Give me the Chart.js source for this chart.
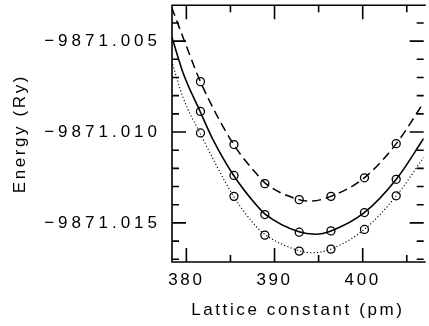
<!DOCTYPE html>
<html>
<head>
<meta charset="utf-8">
<script src="https://cdn.jsdelivr.net/npm/chart.js@4/dist/chart.umd.min.js"></script>
<style>
html,body{margin:0;padding:0;background:#fff;}
#wrap{width:429px;height:326px;position:relative;}
</style>
</head>
<body>
<div id="wrap"><canvas id="c" width="429" height="326"></canvas></div>
<script>
// ---- data ----
const latticeConstants = [381.6, 385.4, 388.9, 392.8, 396.4, 400.2, 403.8];
const energyDashedPts  = [-9871.00723, -9871.01069, -9871.01284, -9871.01372, -9871.01354, -9871.01252, -9871.01064];
const energySolidPts   = [-9871.00887, -9871.01239, -9871.01454, -9871.01551, -9871.01544, -9871.01443, -9871.01260];
const energyDottedPts  = [-9871.01005, -9871.01354, -9871.01567, -9871.01655, -9871.01644, -9871.01536, -9871.01351];

const dashedCurveX = [378.33, 380.0, 381.59, 385.37, 387.96, 389.0, 392.78, 394.07, 396.40, 400.18, 403.81, 406.92];
const dashedCurveE = [-9871.00314, -9871.00527, -9871.00723, -9871.01069, -9871.01230, -9871.01284, -9871.01372, -9871.01380, -9871.01354, -9871.01252, -9871.01064, -9871.00838];
const solidCurveX  = [378.33, 379.62, 381.56, 382.96, 385.37, 387.96, 389.0, 392.78, 394.62, 396.40, 400.18, 403.81, 406.92];
const solidCurveE  = [-9871.00473, -9871.00674, -9871.00887, -9871.01036, -9871.01239, -9871.01403, -9871.01454, -9871.01549, -9871.01562, -9871.01544, -9871.01444, -9871.01260, -9871.01036];
const dottedCurveX = [378.33, 379.62, 381.56, 385.37, 387.96, 389.0, 392.78, 394.26, 396.40, 400.18, 403.81, 406.92];
const dottedCurveE = [-9871.00609, -9871.00810, -9871.01007, -9871.01354, -9871.01522, -9871.01567, -9871.01653, -9871.01664, -9871.01644, -9871.01536, -9871.01351, -9871.01140];

const xTickValues = [380, 390, 400];
const xTickLabels = ['380', '390', '400'];
const xMinorTicks = [385, 395, 405];
const yTickValues = [-9871.015, -9871.010, -9871.005];
const yTickLabels = ['\u22129871.015', '\u22129871.010', '\u22129871.005'];
const yMinorTicks = [-9871.017, -9871.016, -9871.014, -9871.013, -9871.012, -9871.011, -9871.009, -9871.008, -9871.007, -9871.006, -9871.004];

const xTitle = 'Lattice constant (pm)';
const yTitle = 'Energy (Ry)';

// ---- helpers ----
const pairs = (xs, ys) => xs.map((x, i) => ({x: x, y: ys[i]}));
const LETTER_SP = '2.6px';
const Y_LABEL_SP = '4px';
const FONT = {family: '"Liberation Sans", Arial, sans-serif', size: 17};

const frameTicks = {
  id: 'frameTicks',
  beforeUpdate(chart) { chart.ctx.letterSpacing = LETTER_SP; },
  beforeDraw(chart) {
    chart.ctx.letterSpacing = LETTER_SP;
    const ys = chart.scales.y;
    if (ys && !ys._lsPatched) {
      const orig = ys.drawLabels;
      ys.drawLabels = function (area) {
        const c = this.ctx;
        const prev = c.letterSpacing;
        c.letterSpacing = Y_LABEL_SP;
        orig.call(this, area);
        c.letterSpacing = prev;
      };
      ys._lsPatched = true;
    }
  },
  afterDraw(chart) {
    const {ctx, chartArea: a, scales: {x, y}} = chart;
    const MAJ = 14, MIN = 7;
    ctx.save();
    ctx.strokeStyle = '#000';
    ctx.lineWidth = 1.6;
    ctx.lineCap = 'butt';
    ctx.beginPath();
    ctx.moveTo(a.left, a.top); ctx.lineTo(a.right + 2, a.top);
    ctx.moveTo(a.left, a.top - 0.8); ctx.lineTo(a.left, a.bottom + 0.8);
    ctx.moveTo(a.left, a.bottom); ctx.lineTo(a.right + 2, a.bottom);
    const hx = (v, len) => {
      const p = x.getPixelForValue(v);
      ctx.moveTo(p, a.bottom); ctx.lineTo(p, a.bottom - len);
      ctx.moveTo(p, a.top); ctx.lineTo(p, a.top + len);
    };
    const hy = (v, len) => {
      const p = y.getPixelForValue(v);
      ctx.moveTo(a.left, p); ctx.lineTo(a.left + len, p);
      ctx.moveTo(a.right, p); ctx.lineTo(a.right - len, p);
    };
    xTickValues.forEach(v => hx(v, MAJ));
    xMinorTicks.forEach(v => hx(v, MIN));
    yTickValues.forEach(v => hy(v, MAJ));
    yMinorTicks.forEach(v => hy(v, MIN));
    ctx.stroke();
    ctx.restore();
  }
};

const curveBase = {
  showLine: true, pointRadius: 0, borderColor: '#000', backgroundColor: '#000',
  cubicInterpolationMode: 'monotone', fill: false
};
const pointBase = {
  showLine: false, pointRadius: 4, pointStyle: 'circle', borderColor: '#000',
  pointBorderWidth: 1.3, backgroundColor: 'rgba(0,0,0,0)', pointBackgroundColor: 'rgba(0,0,0,0)'
};

new Chart(document.getElementById('c'), {
  type: 'scatter',
  data: {
    datasets: [
      Object.assign({}, curveBase, {label: 'dashed fit', data: pairs(dashedCurveX, dashedCurveE), borderWidth: 1.5, borderDash: [9, 5]}),
      Object.assign({}, curveBase, {label: 'solid fit', data: pairs(solidCurveX, solidCurveE), borderWidth: 1.6}),
      Object.assign({}, curveBase, {label: 'dotted fit', data: pairs(dottedCurveX, dottedCurveE), borderWidth: 1.1, borderDash: [1.2, 2.2]}),
      Object.assign({}, pointBase, {label: 'dashed pts', data: pairs(latticeConstants, energyDashedPts)}),
      Object.assign({}, pointBase, {label: 'solid pts', data: pairs(latticeConstants, energySolidPts)}),
      Object.assign({}, pointBase, {label: 'dotted pts', data: pairs(latticeConstants, energyDottedPts)})
    ]
  },
  options: {
    responsive: false,
    maintainAspectRatio: false,
    animation: false,
    devicePixelRatio: 1,
    layout: {padding: {left: 0, right: 0, top: 4, bottom: 0}},
    plugins: {legend: {display: false}, tooltip: {enabled: false}},
    scales: {
      x: {
        type: 'linear', position: 'bottom',
        min: 378.37, max: 406.92,
        grid: {display: false, drawTicks: false},
        border: {display: false},
        afterBuildTicks: s => { s.ticks = xTickValues.map(v => ({value: v})); },
        afterFit: s => { s.height = 64; s.paddingLeft = 0; s.paddingRight = 0; },
        ticks: {
          color: '#000', font: FONT, padding: 8, maxRotation: 0, autoSkip: false,
          callback: (v) => { const i = xTickValues.indexOf(v); return i >= 0 ? xTickLabels[i] : ''; }
        },
        title: {display: true, text: xTitle, color: '#000', font: FONT, padding: {top: 0, bottom: 5}}
      },
      y: {
        type: 'linear', position: 'left',
        min: -9871.01715, max: -9871.00303,
        grid: {display: false, drawTicks: false},
        border: {display: false},
        afterBuildTicks: s => { s.ticks = yTickValues.map(v => ({value: v})); },
        afterFit: s => { s.width = 172; s.paddingTop = 0; s.paddingBottom = 0; },
        ticks: {
          color: '#000', font: FONT, padding: 11, autoSkip: false,
          callback: (v) => { const i = yTickValues.findIndex(t => Math.abs(t - v) < 1e-7); return i >= 0 ? yTickLabels[i] : ''; }
        },
        title: {display: true, text: yTitle, color: '#000', font: FONT, padding: {top: 10, bottom: 0}}
      }
    }
  },
  plugins: [frameTicks]
});
</script>
</body>
</html>
